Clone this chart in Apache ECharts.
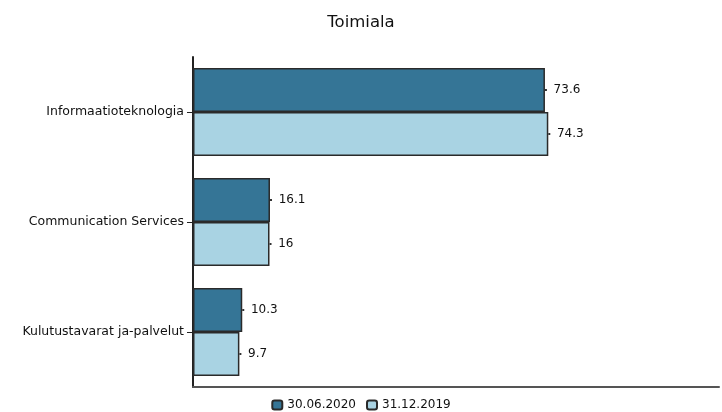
<!DOCTYPE html>
<html>
<head>
<meta charset="utf-8">
<script src="https://cdn.jsdelivr.net/npm/echarts@6/dist/echarts.min.js"></script>
<style>
  html, body { margin: 0; padding: 0; background: #fff; }
  #chart { width: 722px; height: 412px; }
</style>
</head>
<body>
<div id="chart"></div>
<script>
// chart data
const categories = ['Informaatioteknologia', 'Communication Services', 'Kulutustavarat ja-palvelut']
const seriesNames = ['30.06.2020', '31.12.2019']
const values2020 = [73.6, 16.1, 10.3]
const values2019 = [74.3, 16, 9.7]

const chart = echarts.init(document.getElementById('chart'))
const font = 'DejaVu Sans, sans-serif'

// value label with the small leader dot at the bar end
const labelStyle = {
  show: true,
  position: 'right',
  distance: 0,
  formatter: '{t|}  {v|{c}}',
  rich: {
    t: { width: 2, height: 2, backgroundColor: '#333' },
    v: { color: '#111', fontSize: 12, fontFamily: font },
  },
}

chart.setOption({
  animation: false,
  backgroundColor: '#fff',
  title: {
    text: 'Toimiala',
    left: 'center',
    top: 9,
    textStyle: { fontSize: 16.5, fontWeight: 'normal', color: '#111', fontFamily: font },
  },
  legend: {
    top: 394,
    left: 'center',
    itemWidth: 10,
    itemHeight: 9,
    itemGap: 10,
    textStyle: { fontSize: 12, color: '#111', fontFamily: font },
    data: seriesNames,
  },
  grid: {
    left: 193,
    right: 3,
    top: 57,
    bottom: 25,
  },
  xAxis: {
    type: 'value',
    min: 0,
    max: 110,
    splitLine: { show: false },
    axisLabel: { show: false },
    axisTick: { show: false },
    axisLine: { show: true, lineStyle: { color: '#555', width: 2 } },
  },
  yAxis: {
    type: 'category',
    data: categories,
    inverse: true,
    axisLine: { show: true, onZero: false, lineStyle: { color: '#222', width: 2 } },
    axisTick: { show: true, length: 6, alignWithLabel: true, lineStyle: { color: '#222', width: 1 } },
    axisLabel: { color: '#111', fontSize: 12.5, fontFamily: font, margin: 9 },
  },
  series: [
    {
      name: seriesNames[0],
      type: 'bar',
      data: values2020,
      barGap: '0%',
      barCategoryGap: '20%',
      itemStyle: { color: '#357596', borderColor: '#2a2a2a', borderWidth: 1.5 },
      label: labelStyle,
    },
    {
      name: seriesNames[1],
      type: 'bar',
      data: values2019,
      itemStyle: { color: '#a9d3e3', borderColor: '#2a2a2a', borderWidth: 1.5 },
      label: labelStyle,
    },
  ],
})
</script>
</body>
</html>
